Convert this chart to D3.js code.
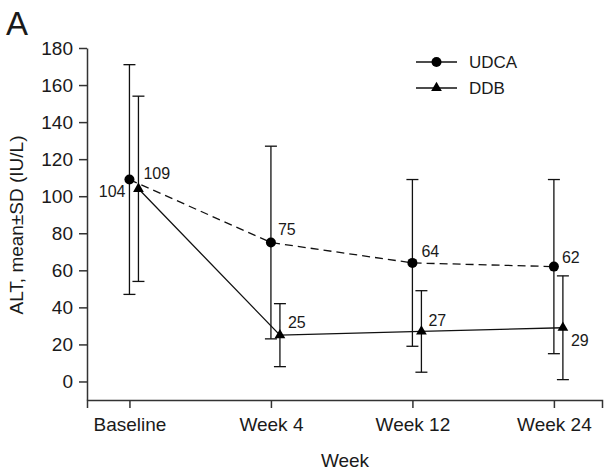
<!DOCTYPE html>
<html>
<head>
<meta charset="utf-8">
<script src="https://cdn.jsdelivr.net/npm/d3@7"></script>
<style>
  body { margin: 0; background: #fff; }
  text { font-family: "Liberation Sans", Arial, sans-serif; fill: #1a1a1a; }
</style>
</head>
<body>
<script>
var weeks = ["Baseline", "Week 4", "Week 12", "Week 24"];
var udcaMean = [109, 75, 64, 62];
var udcaSD = [62, 52, 45, 47];
var ddbMean = [104, 25, 27, 29];
var ddbSD = [50, 17, 22, 28];
var yTicks = [0, 20, 40, 60, 80, 100, 120, 140, 160, 180];

// label offsets (px) for the value labels
var udcaLabelPos = [[14, -1], [7, -8], [9, -6], [8, -4]];
var ddbLabelPos = [[-13, 8], [8, -7], [7, -5], [8, 18]];

var width = 604, height = 473;

var svg = d3.select("body")
    .append("svg")
    .attr("width", width).attr("height", height);

var x = d3.scaleLinear().domain([-0.3, 3.34]).range([87, 602]);
var y = d3.scaleLinear().domain([-10, 180]).range([400, 48]);
var shift = 9; // DDB points sit a bit to the right

// axes
var yAxis = svg.append("g")
    .attr("transform", "translate(87,0)")
    .call(d3.axisLeft(y).tickValues(yTicks).tickSize(8).tickSizeOuter(0).tickPadding(6));

var xAxis = svg.append("g")
    .attr("transform", "translate(0,400)")
    .call(d3.axisBottom(x).tickValues([0, 1, 2, 3])
        .tickFormat(function (d) { return weeks[d]; })
        .tickSize(8).tickSizeOuter(8).tickPadding(10));

svg.selectAll(".domain, .tick line")
    .attr("stroke", "#333")
    .attr("stroke-width", 1.5);

yAxis.selectAll("text").attr("font-size", "19px").attr("fill", "#1a1a1a");
xAxis.selectAll("text").attr("font-size", "19px").attr("fill", "#1a1a1a");
svg.selectAll(".tick text").attr("font-family", "Liberation Sans, Arial, sans-serif");

// axis titles
svg.append("text")
    .attr("transform", "translate(23,225) rotate(-90)")
    .attr("text-anchor", "middle")
    .attr("font-size", "19px")
    .text("ALT, mean±SD (IU/L)");

svg.append("text")
    .attr("x", 345).attr("y", 467)
    .attr("text-anchor", "middle")
    .attr("font-size", "19px")
    .text("Week");

svg.append("text")
    .attr("x", 6).attr("y", 35)
    .attr("font-size", "33px")
    .text("A");

// error bars
function errorBars(means, sds, dx) {
    var g = svg.append("g").attr("stroke", "#111").attr("stroke-width", 1.3);
    g.selectAll("line.v")
        .data(means)
        .enter()
        .append("line")
        .attr("x1", function (d, i) { return x(i) + dx; })
        .attr("x2", function (d, i) { return x(i) + dx; })
        .attr("y1", function (d, i) { return y(d + sds[i]); })
        .attr("y2", function (d, i) { return y(d - sds[i]); });
    [1, -1].forEach(function (s) {
        g.selectAll(null)
            .data(means)
            .enter()
            .append("line")
            .attr("x1", function (d, i) { return x(i) + dx - 6; })
            .attr("x2", function (d, i) { return x(i) + dx + 6; })
            .attr("y1", function (d, i) { return y(d + s * sds[i]); })
            .attr("y2", function (d, i) { return y(d + s * sds[i]); });
    });
}
errorBars(udcaMean, udcaSD, 0);
errorBars(ddbMean, ddbSD, shift);

// lines
var udcaLine = d3.line()
    .x(function (d, i) { return x(i); })
    .y(function (d) { return y(d); });
var ddbLine = d3.line()
    .x(function (d, i) { return x(i) + shift; })
    .y(function (d) { return y(d); });

svg.append("path")
    .attr("d", udcaLine(udcaMean))
    .attr("fill", "none")
    .attr("stroke", "#111")
    .attr("stroke-width", 1.3)
    .attr("stroke-dasharray", "8,5");

svg.append("path")
    .attr("d", ddbLine(ddbMean))
    .attr("fill", "none")
    .attr("stroke", "#111")
    .attr("stroke-width", 1.3);

// markers
svg.selectAll("circle.udca")
    .data(udcaMean)
    .enter()
    .append("circle")
    .attr("class", "udca")
    .attr("cx", function (d, i) { return x(i); })
    .attr("cy", function (d) { return y(d); })
    .attr("r", 5)
    .attr("fill", "#000");

var tri = d3.symbol().type(d3.symbolTriangle).size(50);
svg.selectAll("path.ddb")
    .data(ddbMean)
    .enter()
    .append("path")
    .attr("class", "ddb")
    .attr("d", tri)
    .attr("transform", function (d, i) { return "translate(" + (x(i) + shift) + "," + y(d) + ")"; })
    .attr("fill", "#000");

// value labels
svg.selectAll("text.udcaLab")
    .data(udcaMean)
    .enter()
    .append("text")
    .attr("class", "udcaLab")
    .attr("x", function (d, i) { return x(i) + udcaLabelPos[i][0]; })
    .attr("y", function (d, i) { return y(d) + udcaLabelPos[i][1]; })
    .attr("font-size", "16px")
    .text(function (d) { return d; });

svg.selectAll("text.ddbLab")
    .data(ddbMean)
    .enter()
    .append("text")
    .attr("class", "ddbLab")
    .attr("x", function (d, i) { return x(i) + shift + ddbLabelPos[i][0]; })
    .attr("y", function (d, i) { return y(d) + ddbLabelPos[i][1]; })
    .attr("text-anchor", function (d, i) { return ddbLabelPos[i][0] < 0 ? "end" : "start"; })
    .attr("font-size", "16px")
    .text(function (d) { return d; });

// legend
var legend = svg.append("g").attr("transform", "translate(416,62)");
var legendItems = ["UDCA", "DDB"];
legendItems.forEach(function (name, i) {
    var row = legend.append("g").attr("transform", "translate(0," + (i * 26) + ")");
    row.append("line")
        .attr("x1", 0).attr("x2", 41)
        .attr("stroke", "#111").attr("stroke-width", 1.3);
    if (i === 0) {
        row.append("circle").attr("cx", 20.5).attr("r", 5).attr("fill", "#000");
    } else {
        row.append("path").attr("d", tri).attr("transform", "translate(20.5,0)").attr("fill", "#000");
    }
    row.append("text")
        .attr("x", 53).attr("y", 6)
        .attr("font-size", "17px")
        .text(name);
});
</script>
</body>
</html>
